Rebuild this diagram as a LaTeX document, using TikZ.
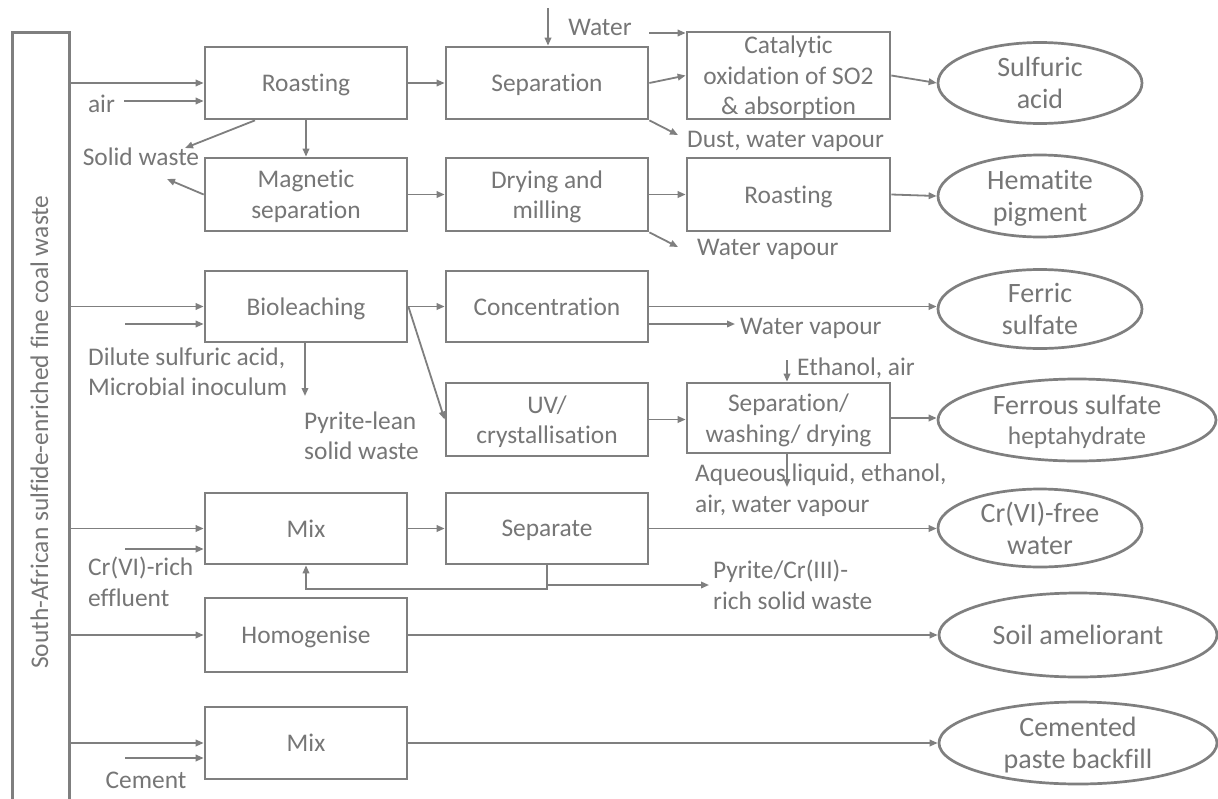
\documentclass[tikz,border=0pt]{standalone}
\usepackage{fontspec}
\setmainfont{Carlito}[Ligatures=NoCommon]
\usetikzlibrary{arrows.meta,shapes.geometric}
\definecolor{lg}{RGB}{127,127,127}
\definecolor{tg}{RGB}{118,118,118}
\newcommand{\myfs}{\fontsize{25.4}{30.5}\selectfont}
\newcommand{\myfe}{\fontsize{28}{32}\selectfont}
\begin{document}
\begin{tikzpicture}[x=1pt,y=-1pt,
  every node/.style={text=tg, inner sep=0pt, font=\myfs},
  box/.style={draw=lg, line width=2.7pt, minimum width=202pt, minimum height=72pt, align=center, text depth=0pt},
  prod/.style={ellipse, draw=lg, line width=2.7pt, align=center, font=\myfe, text depth=0pt},
  arr/.style={draw=lg, line width=1.8pt, -{Triangle[length=8pt,width=6.5pt]}},
  lbl/.style={align=left, anchor=west}]
\useasboundingbox (0,0) rectangle (1218,798);
\fill[white] (0,0) rectangle (1218,798);

% source bar
\node[draw=lg, line width=2.7pt, minimum width=57pt, minimum height=790pt, anchor=north west] (bar) at (11,31) {};
\node[rotate=90] (bart) at (39.5,432) {South-African sulfide-enriched fine coal waste};

% process boxes
\node[box] (R1) at (306,83) {Roasting};
\node[box] (Sep) at (547,83) {Separation};
\node[box, minimum width=203pt, minimum height=87pt] (Cat) at (788.5,75.5) {Catalytic\\oxidation of SO2\\\& absorption};
\node[box, minimum height=73pt] (Mag) at (306,194.5) {Magnetic\\separation};
\node[box, minimum height=73pt] (Dry) at (547,194.5) {Drying and\\milling};
\node[box, minimum width=203pt, minimum height=73pt] (R2) at (788.5,194.5) {Roasting};
\node[box, minimum height=71pt] (Bio) at (306,306.5) {Bioleaching};
\node[box, minimum height=71pt] (Conc) at (547,306.5) {Concentration};
\node[box, minimum height=73pt] (UV) at (547,419.5) {UV/\\crystallisation};
\node[box, minimum width=203pt, minimum height=70pt] (SW) at (788.5,418) {Separation/\\washing/ drying};
\node[box, minimum height=71pt] (Mix) at (306,528.5) {Mix};
\node[box, minimum height=71pt] (Spt) at (547,528.5) {Separate};
\node[box, minimum height=74pt] (Hom) at (306,635) {Homogenise};
\node[box, minimum height=72pt] (Mix2) at (306,743) {Mix};

% products
\node[prod, minimum width=204pt, minimum height=81pt] (P1) at (1040,83) {Sulfuric\\acid};
\node[prod, minimum width=204pt, minimum height=82pt] (P2) at (1040,196) {Hematite\\pigment};
\node[prod, minimum width=204pt, minimum height=79pt] (P3) at (1040,309) {Ferric\\sulfate};
\node[prod, minimum width=278pt, minimum height=82pt] (P4) at (1077,420) {Ferrous sulfate\\[-2pt]{\myfs heptahydrate}};
\node[prod, minimum width=204pt, minimum height=78pt] (P5) at (1040,528) {Cr(VI)-free\\water};
\node[prod, minimum width=278pt, minimum height=84pt] (P6) at (1078,635) {Soil ameliorant};
\node[prod, minimum width=278pt, minimum height=82pt] (P7) at (1078,743) {Cemented\\paste backfill};

% row 1
\draw[arr] (bar.east |- R1.west) -- (R1.west);
\coordinate (airS) at (124,101);
\draw[arr] (airS) -- (R1.west |- airS);
\node (air) at (101.5,104) {air};
\draw[arr] (R1.east) -- (Sep.west);
\coordinate (wTop) at (548,8);
\draw[arr] (wTop) -- (wTop |- Sep.north);
\node (water) at (600,27) {Water};
\coordinate (wS) at (649,33);
\draw[arr] (wS) -- (Cat.west |- wS);
\draw[arr] (Sep.east) -- (Cat.west);
\coordinate (dustE) at (678,135);
\draw[arr] (Sep.south east) -- (dustE);
\node[lbl] (dust) at (687,141) {Dust, water vapour};
\draw[arr] (Cat.east) -- (P1.west);
\coordinate (swE) at (185,148);
\draw[arr] ([xshift=-51pt]R1.south) -- (swE);
\node (sw) at (141,157) {Solid waste};

% row 2
\draw[arr] (R1.south) -- (Mag.north);
\coordinate (sw2) at (167,179);
\draw[arr] (Mag.west) -- (sw2);
\draw[arr] (Mag.east) -- (Dry.west);
\draw[arr] (Dry.east) -- (R2.west);
\draw[arr] (R2.east) -- (P2.west);
\coordinate (wv1) at (678,247);
\draw[arr] (Dry.south east) -- (wv1);
\node[lbl] (wv1t) at (697,249) {Water vapour};

% row 3
\draw[arr] (bar.east |- Bio.west) -- (Bio.west);
\coordinate (dilS) at (125,324);
\draw[arr] (dilS) -- (Bio.west |- dilS);
\node[lbl] (dil) at (88,372) {Dilute sulfuric acid,\\Microbial inoculum};
\coordinate (plE) at (305,396);
\draw[arr] (Bio.south -| plE) -- (plE);
\node[lbl] (pl) at (304,436) {Pyrite-lean\\solid waste};
\draw[arr] (Bio.east) -- (Conc.west);
\draw[arr] (Conc.east) -- (Conc.east -| P3.west);
\coordinate (wv2) at (735,324);
\draw[arr] (Conc.east |- wv2) -- (wv2);
\node[lbl] (wv2t) at (740,328) {Water vapour};

% row 4
\draw[arr] (Bio.east) -- (UV.west);
\draw[arr] (UV.east) -- (UV.east -| SW.west);
\draw[arr] (SW.east) -- (SW.east -| P4.west);
\coordinate (ethS) at (787,360);
\draw[arr] (ethS) -- (ethS |- SW.north);
\node[lbl] (eth) at (797,368) {Ethanol, air};
\coordinate (aqE) at (787,487);
\draw[arr] (SW.south -| aqE) -- (aqE);
\node[lbl] (aq) at (695,490) {Aqueous liquid, ethanol,\\air, water vapour};

% row 5
\draw[arr] (bar.east |- Mix.west) -- (Mix.west);
\coordinate (crS) at (125,549);
\draw[arr] (crS) -- (Mix.west |- crS);
\node[lbl] (cr) at (88,582) {Cr(VI)-rich\\effluent};
\draw[arr] (Mix.east) -- (Spt.west);
\draw[arr] (Spt.east) -- (Spt.east -| P5.west);
\coordinate (fb) at (547,589);
\draw[arr] (Spt.south) -- (fb) -| (Mix.south);
\coordinate (pcS) at (547,585);
\coordinate (pcE) at (709,585);
\draw[arr] (pcS) -- (pcE);
\node[lbl] (pc) at (713,585) {Pyrite/Cr(III)-\\rich solid waste};

% row 6
\draw[arr] (bar.east |- Hom.west) -- (Hom.west);
\draw[arr] (Hom.east) -- (P6.west);

% row 7
\draw[arr] (bar.east |- Mix2.west) -- (Mix2.west);
\coordinate (cemS) at (125,758);
\draw[arr] (cemS) -- (Mix2.west |- cemS);
\node (cem) at (146,780) {Cement};
\draw[arr] (Mix2.east) -- (P7.west);
\end{tikzpicture}
\end{document}
